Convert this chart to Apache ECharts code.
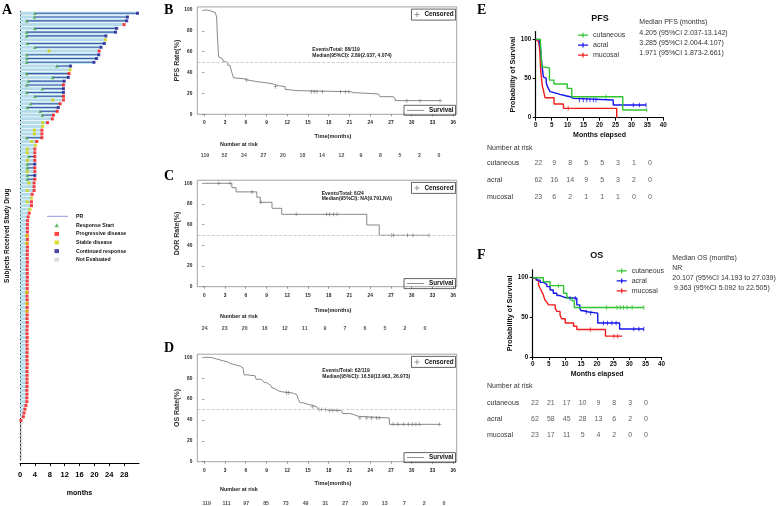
<!DOCTYPE html>
<html><head><meta charset="utf-8">
<script src="https://cdn.jsdelivr.net/npm/echarts@6/dist/echarts.min.js"></script>
<style>html,body{margin:0;padding:0;background:#fff}#c{width:778px;height:506px}</style>
</head><body><div id="c"></div>
<script>
// ---------- Panel A: swimmer plot ----------
const subjects = Array.from({length:119},(_,i)=>'S'+(i+1));
const swimEnd = [
31.6,28.9,28.7,28.0,26.0,25.7,23.1,23.0,22.7,21.8,
21.3,21.2,20.6,19.9,13.6,13.5,13.2,13.0,11.9,11.7,
11.7,11.7,11.7,11.7,10.8,10.3,10.0,9.0,8.7,7.4,
6.1,5.9,5.9,5.9,4.5,4.2,4.0,4.0,4.0,4.0,
4.0,4.0,4.0,4.0,4.0,3.8,3.8,3.8,3.3,3.1,
3.1,3.1,2.7,2.5,2.2,2.05,2.0,2.0,2.0,1.95,
2.0,1.95,2.0,2.0,1.95,1.95,2.0,1.95,1.95,1.95,
2.0,1.95,1.95,1.95,1.95,1.9,1.95,1.95,1.95,1.9,
1.95,1.9,1.95,1.95,1.9,1.9,1.95,1.9,1.9,1.95,
1.9,1.9,1.9,1.95,1.9,1.9,1.9,1.9,1.9,1.9,
1.85,1.9,1.85,1.85,1.6,1.35,1.1,0.9,0.27,0,
0,0,0,0,0,0,0,0,0];
// C = continued response, P = progressive disease, S = stable disease, N = not evaluated
const swimOutcome = 'CCCPCCCSCC'+'PCCCCSPCCP'+'CCPPPCPPPP'+'SPPPPSPPPP'+'CPPCPPPPPS'+'PPSPPP'
  +'PPPPPPPPPP'+'PPPPPPPPPP'+'PPPPPPPPPP'+'PPPPPPPPPP'+'PPPPPPPPPP'+'PPP'+'NNNNNNNNNN';
const respStart = [[1,4.0],[2,3.86],[3,1.8],[5,4.0],[6,1.8],[7,1.8],[9,1.97],[10,4.0],[12,1.8],[13,1.8],[14,1.8],[15,9.9],[17,1.8],[18,8.8],[19,2.24],[20,1.8],[21,6.0],[22,1.8],[23,4.0],[25,2.87],[26,1.97],[27,5.4],[28,6.0],[34,1.8],[39,2.33],[41,1.97],[42,1.97],[44,1.97],[45,1.97]];
const sdMarks = [[11,7.8],[24,8.8],[30,6.1],[32,3.86],[33,3.86],[35,3.14],[37,1.97],[38,1.97],[40,1.97],[43,1.97],[46,2.4],[48,1.97],[51,1.97],[60,1.8],[62,1.8],[75,1.8],[78,1.8],[80,1.8]];
const notEvalTime = 0.25;
const swimTicks = [0,4,8,12,16,20,24,28];

// ---------- Panels B, C, D ----------
const kmTicks = [0,3,6,9,12,15,18,21,24,27,30,33,36];
const rateTicks = [0,20,40,60,80,100];
const pfsAll = [[0,100],[0.5,99.2],[0.9,98.3],[1.3,97.5],[1.6,95.8],[1.8,93.3],[1.85,84],[1.9,75],[1.95,70],[2.0,64],[2.05,58],[2.1,55],[2.3,53.5],[2.6,52],[2.8,50.5],[3.1,49.5],[3.4,47],[3.7,45.7],[3.9,42.5],[4.05,39],[4.25,35],[4.5,34],[5.9,33],[6.2,31.3],[7.6,30.4],[8.8,29],[10,27.5],[10.7,26.5],[11.7,24],[11.95,22.7],[13.4,21.7],[21.1,20.8],[21.6,19.5],[25.2,17.9],[25.4,16.9],[27.3,15.3],[27.6,13.1],[34.1,13.1]];
const pfsAllCens = [[6.1,33],[10.3,26.5],[15.5,21.7],[15.9,21.7],[16.3,21.7],[17.1,21.7],[19.7,21.7],[20.4,21.7],[20.9,21.7],[29.3,13.1],[31.2,13.1],[34.1,13.1]];
const dorAll = [[0,100],[4.0,95.8],[4.6,91.7],[7.6,86.5],[8.1,81.6],[9.8,75.8],[11.2,70],[23.5,59.7],[25.3,49.7],[32.5,49.7]];
const dorAllCens = [[2.1,100],[3.75,100],[6.9,91.7],[8.2,81.6],[13.3,70],[17.7,70],[18.1,70],[18.7,70],[19.2,70],[27.1,49.7],[27.4,49.7],[29.4,49.7],[30.2,49.7],[32.5,49.7]];
const osAll = [[0,100],[0.96,99.2],[1.1,98.3],[1.8,97.5],[2.3,96.6],[2.8,95.8],[3.3,94.1],[3.75,93.3],[4.2,92.4],[4.7,91.6],[5.2,89.9],[5.6,88.7],[5.77,83.2],[6.16,82.3],[7.36,81.5],[7.5,79],[8.08,78],[8.4,76.9],[8.66,75.8],[9.0,74.6],[9.29,73.2],[9.6,72.1],[9.77,71],[10.0,69.8],[10.25,68.7],[10.5,67.9],[10.73,67],[11.21,66.1],[12.4,65.5],[12.9,64.2],[13.4,62.9],[13.6,59.7],[13.86,56.5],[14.34,54.8],[15.06,53.9],[15.78,52.6],[16.27,51],[16.5,50],[17.7,49],[19.87,48.4],[20.02,46.1],[21.08,45.2],[21.56,43.5],[22.28,41.9],[26.76,35.8],[33.98,35.8]];
const osAllCens = [[11.9,66.1],[12.2,66.1],[15.7,52.6],[16.6,50],[17.0,50],[17.5,50],[18.1,49],[18.6,49],[19.2,49],[22.5,41.9],[23.5,41.9],[24.2,41.9],[24.9,41.9],[25.3,41.9],[27.3,35.8],[28.0,35.8],[28.8,35.8],[29.5,35.8],[30.1,35.8],[30.6,35.8],[31.1,35.8],[34.0,35.8]];
const riskTimes = [0,3,6,9,12,15,18,21,24,27,30,33,36];
const riskB = [119,52,34,27,20,18,14,12,9,8,5,2,0];
const riskC = [24,23,20,16,12,11,9,7,6,5,2,0];
const riskD = [119,111,97,85,73,49,31,27,20,13,7,2,0];

// ---------- Panels E, F ----------
const groups = ['cutaneous','acral','mucosal'];
const efTicks = [0,50,100];
const pfsCut = [[0,100],[1.5,95.5],[1.9,65],[2.4,63.6],[4.3,48],[5.7,43],[9.9,37.4],[11.3,26.8],[27.3,9.8],[34.8,9.8]];
const pfsCutC = [[22,26.8],[34.8,9.8]];
const pfsAcral = [[0,100],[1.15,97],[1.4,92],[1.6,85],[1.9,70],[2.2,58.7],[2.4,52],[2.9,50.2],[3.3,45],[3.5,41.7],[3.97,37.4],[4.5,33.2],[5.0,31],[6.6,29.8],[7.6,27.7],[9.7,26.8],[10.8,24.7],[11.8,22.6],[24.3,16.2],[34.6,16.2]];
const pfsAcralC = [[13.7,22.6],[14.9,22.6],[16,22.6],[17,22.6],[18.1,22.6],[18.9,22.6],[30.6,16.2],[32.5,16.2],[34.6,16.2]];
const pfsMuc = [[0,100],[0.5,97.5],[0.84,95],[1.15,90.6],[1.36,78],[1.57,60],[1.88,48],[2.1,40],[2.4,35.3],[2.93,25.5],[5.75,17.4],[8.7,11.9],[25.4,0]];
const pfsMucC = [[10.2,11.9]];
const osCut = [[0,100],[3.3,95],[5.4,90],[9.6,80.4],[10.6,74.2],[12.2,70.8],[12.9,62.5],[34.5,62.5]];
const osCutC = [[8.0,90],[22.9,62.5],[26.2,62.5],[27.2,62.5],[28.2,62.5],[29.3,62.5],[30.9,62.5],[34.5,62.5]];
const osAcral = [[0,100],[1.2,97],[2.3,94.2],[3.3,91.7],[4.4,88.8],[5.4,84.6],[6.4,80.4],[7.5,77.5],[8.5,75],[10.1,74.2],[13.7,65.8],[14.6,61.7],[15.0,58.3],[15.8,56.7],[17.4,55.4],[20.2,42.9],[27.0,35.4],[34.5,35.4]];
const osAcralC = [[11.6,74.2],[13.2,74.2],[16.6,56.7],[18.0,55.4],[22.0,42.9],[23.2,42.9],[24.6,42.9],[25.9,42.9],[31.4,35.4],[33.0,35.4],[34.5,35.4]];
const osMuc = [[0,100],[1.0,97],[1.8,90.8],[2.3,86.7],[2.8,82.5],[3.3,78.3],[3.8,72],[4.4,69.2],[4.9,65.8],[7.0,61.7],[7.5,57.5],[8.5,52.5],[9.0,48.3],[10.1,42.9],[12.7,38.8],[13.7,34.6],[22.6,26.3],[27.8,26.3]];
const osMucC = [[17.9,34.6],[25.2,26.3],[26.4,26.3]];
const riskTimesEF = [0,5,10,15,20,25,30,35];
const riskPfsCut = [22,9,8,5,5,3,1,0];
const riskPfsAcral = [62,16,14,9,5,3,2,0];
const riskPfsMuc = [23,6,2,1,1,1,0,0];
const riskOsCut = [22,21,17,10,9,8,3,0];
const riskOsAcral = [62,58,45,28,13,6,2,0];
const riskOsMuc = [23,17,11,5,4,2,0,0];

// ---------- build ----------
const SANS = 'Liberation Sans, Arial, sans-serif';
const SERIF = 'Liberation Serif, Times New Roman, serif';
const GREEN = '#2fc42f', BLUE = '#1414f0', RED = '#f21c1c', KMGREY = '#7a7a7a';
const PLUS = 'path://M4,0H6V10H4Z M0,4H10V6H0Z';
const LINEICON = 'path://M0,4.5H20V5.5H0Z';
const EFICON = 'path://M0,2.4H10V3.6H0Z M4.4,0.6H5.6V5.4H4.4Z';

const respData = respStart.map(([s,t])=>[t,s-1]);
const prData = respStart.map(([s,t])=>[t,s-1,swimEnd[s-1]]);
const sdData = sdMarks.map(([s,t])=>[t,s-1]);
const pdData = [], contData = [], neData = [];
swimEnd.forEach((e,i)=>{
  const o = swimOutcome[i] || 'P';
  if (o==='P') pdData.push([e,i]);
  else if (o==='C') contData.push([e,i]);
  else if (o==='S') sdData.push([e,i]);
  else neData.push([notEvalTime,i]);
});

const grids = [
  {left:20, top:11.4, width:119, height:448.7},          // 0 A
  {left:197.3, top:6.9, width:259.4, height:107.4, show:true}, // 1 B
  {left:205, top:155.2, width:234, height:1},            // 2 B risk
  {left:197.3, top:180.2, width:259.4, height:106.5, show:true}, // 3 C
  {left:204.7, top:328.5, width:240.3, height:1},        // 4 C risk
  {left:197.3, top:354.2, width:259.4, height:107.5, show:true}, // 5 D
  {left:206.7, top:502.8, width:237.3, height:1},        // 6 D risk
  {left:535.7, top:31.5, width:127.6, height:86.2},      // 7 E
  {left:538.3, top:163.3, width:127.6, height:33.4},     // 8 E risk
  {left:532.7, top:269.8, width:128.8, height:87.2},     // 9 F
  {left:535, top:402.7, width:126.9, height:32.3}        // 10 F risk
].map(g=>Object.assign({outerBoundsMode:'none', containLabel:false, borderColor:'#8c8c8c', borderWidth:0.8}, g));

function kmX(gi, gap){ return {type:'value', gridIndex:gi, min:-1, max:36.5,
  axisLine:{show:false}, splitLine:{show:false},
  axisTick:{show:true, length:2, customValues:kmTicks, lineStyle:{color:'#777', width:0.8}},
  axisLabel:{customValues:kmTicks, fontSize:4.8, fontWeight:'bold', color:'#222', margin:6, fontFamily:SANS},
  name:'Time(months)', nameLocation:'middle', nameGap:gap,
  nameTextStyle:{fontSize:5.6, fontWeight:'bold', color:'#222', padding:[0,0,0,12], fontFamily:SANS}}; }
function kmY(gi, name){ return {type:'value', gridIndex:gi, min:0, max:103,
  axisLine:{show:false}, splitLine:{show:false},
  axisTick:{show:true, length:2, customValues:rateTicks, lineStyle:{color:'#777', width:0.8}},
  axisLabel:{customValues:rateTicks, fontSize:4.8, fontWeight:'bold', color:'#222', margin:5, fontFamily:SANS},
  name:name, nameLocation:'middle', nameGap:15.5,
  nameTextStyle:{fontSize:7, fontWeight:'bold', color:'#333', fontFamily:SANS}}; }
function hidX(gi,max){ return {type:'value', gridIndex:gi, min:0, max:max, show:false}; }
function hidY(gi){ return {type:'value', gridIndex:gi, min:0, max:1, show:false}; }
function efX(gi, gap, margin){ return {type:'value', gridIndex:gi, min:0, max:40, interval:5,
  axisLine:{show:true, lineStyle:{color:'#000', width:1.2}}, splitLine:{show:false},
  axisTick:{show:true, length:3, lineStyle:{color:'#000', width:1}},
  axisLabel:{fontSize:6.3, fontWeight:'bold', color:'#111', margin:margin, fontFamily:SANS},
  name:'Months elapsed', nameLocation:'middle', nameGap:gap,
  nameTextStyle:{fontSize:7, fontWeight:'bold', color:'#111', fontFamily:SANS}}; }
function efY(gi, gap){ return {type:'value', gridIndex:gi, min:0, max:110,
  axisLine:{show:true, lineStyle:{color:'#000', width:1.2}}, splitLine:{show:false},
  axisTick:{show:true, length:3, customValues:efTicks, lineStyle:{color:'#000', width:1}},
  axisLabel:{customValues:efTicks, fontSize:6.3, fontWeight:'bold', color:'#111', margin:4.5, fontFamily:SANS},
  name:'Probability of Survival', nameLocation:'middle', nameGap:gap,
  nameTextStyle:{fontSize:7.2, fontWeight:'bold', color:'#111', fontFamily:SANS}}; }
function riskY(gi, margin){ return {type:'category', gridIndex:gi, data:groups, inverse:true, boundaryGap:false,
  axisLine:{show:false}, axisTick:{show:false}, splitLine:{show:false},
  axisLabel:{align:'left', margin:margin, fontSize:7, color:'#333', fontFamily:SANS}}; }

const xAxes = [
  {type:'value', gridIndex:0, min:0, max:32, offset:3,
   axisLine:{show:true, lineStyle:{color:'#000', width:1}}, splitLine:{show:false},
   axisTick:{show:true, length:3, customValues:swimTicks, lineStyle:{color:'#000'}},
   axisLabel:{customValues:swimTicks, fontSize:7.5, fontWeight:'bold', color:'#000', margin:8, fontFamily:SANS},
   name:'months', nameLocation:'middle', nameGap:26,
   nameTextStyle:{fontSize:7, fontWeight:'bold', color:'#000', fontFamily:SANS}},
  kmX(1,19.5), hidX(2,36), kmX(3,21), hidX(4,36), kmX(5,18.5), hidX(6,36),
  efX(7,14,4.5), hidX(8,40), efX(9,13.3,4), hidX(10,40)
];
const yAxes = [
  {type:'category', gridIndex:0, data:subjects, inverse:true,
   axisLine:{show:true, lineStyle:{color:'#000', width:1}}, axisTick:{show:false}, axisLabel:{show:false},
   name:'Subjects Received Study Drug', nameLocation:'middle', nameGap:9.5,
   nameTextStyle:{fontSize:6.5, fontWeight:'bold', color:'#111', fontFamily:SANS}},
  kmY(1,'PFS Rate(%)'), hidY(2), kmY(3,'DOR Rate(%)'), hidY(4), kmY(5,'OS Rate(%)'), hidY(6),
  efY(7,19), riskY(8,51.3), efY(9,17.5), riskY(10,48)
];

const series = [];
// Panel A
series.push({type:'bar', name:'bg', xAxisIndex:0, yAxisIndex:0, data:swimEnd, barWidth:3,
  itemStyle:{color:'#b3dbea'}, silent:true, z:1});
series.push({type:'custom', name:'PR', xAxisIndex:0, yAxisIndex:0, data:prData,
  encode:{x:[0,2], y:1}, z:2, itemStyle:{color:'#3f5aa8'},
  renderItem:function(params, api){
    const p1 = api.coord([api.value(0), api.value(1)]);
    const p2 = api.coord([api.value(2), api.value(1)]);
    return {type:'line', shape:{x1:p1[0], y1:p1[1], x2:p2[0], y2:p2[1]},
      style:{stroke:'#3f5aa8', lineWidth:1.1}};
  }});
function mark(name, data, symbol, size, color){
  return {type:'scatter', name:name, xAxisIndex:0, yAxisIndex:0, data:data, symbol:symbol,
    symbolSize:size, itemStyle:{color:color}, z:4, silent:true};
}
series.push(mark('Response Start', respData, 'triangle', 3.6, '#4aa84a'));
series.push(mark('Progressive disease', pdData, 'rect', 3, '#ff1010'));
series.push(mark('Stable disease', sdData, 'rect', 3, '#d2d200'));
series.push(mark('Continued response', contData, 'rect', 3, '#1c1c8e'));
series.push(mark('Not Evaluated', neData, 'rect', 2.6, '#cfcfcf'));

// Panels B, C, D
function kmPanel(gi, curve, cens){
  series.push({type:'line', name:'Survival', xAxisIndex:gi, yAxisIndex:gi, data:curve, step:'end',
    symbol:'none', lineStyle:{color:KMGREY, width:0.9}, itemStyle:{color:KMGREY}, z:2,
    markLine:{silent:true, symbol:['none','none'], label:{show:false}, animation:false,
      lineStyle:{type:'dashed', color:'#c4c4c4', width:0.8}, data:[{yAxis:50}]}});
  series.push({type:'scatter', name:'Censored', xAxisIndex:gi, yAxisIndex:gi, data:cens,
    symbol:PLUS, symbolSize:4, itemStyle:{color:KMGREY}, z:3});
}
function riskRow(gi, times, vals){
  series.push({type:'scatter', name:'risk'+gi, xAxisIndex:gi, yAxisIndex:gi,
    data:vals.map((v,i)=>[times[i],0.5,v]), symbolSize:1, itemStyle:{color:'rgba(0,0,0,0)'},
    label:{show:true, position:'inside', formatter:p=>String(p.data[2]), fontSize:5.2,
      fontWeight:'bold', color:'#222', fontFamily:SANS}, silent:true});
}
kmPanel(1, pfsAll, pfsAllCens); riskRow(2, riskTimes, riskB);
kmPanel(3, dorAll, dorAllCens); riskRow(4, riskTimes, riskC);
kmPanel(5, osAll, osAllCens);   riskRow(6, riskTimes, riskD);

// Panels E, F
function efPanel(gi, curves, cens){
  const cols = [GREEN, BLUE, RED];
  [2,1,0].forEach(k=>{
    series.push({type:'line', name:groups[k], xAxisIndex:gi, yAxisIndex:gi, data:curves[k], step:'end',
      symbol:'none', lineStyle:{color:cols[k], width:1.4}, itemStyle:{color:cols[k]}, z:2+(2-k)});
    series.push({type:'scatter', name:groups[k]+' censored', xAxisIndex:gi, yAxisIndex:gi, data:cens[k],
      symbol:'rect', symbolSize:[1,4.5], itemStyle:{color:cols[k]}, z:5});
  });
}
function efRisk(gi, rows){
  const data = [];
  rows.forEach((r,k)=>r.forEach((v,i)=>data.push([riskTimesEF[i], k, v])));
  series.push({type:'scatter', name:'efrisk'+gi, xAxisIndex:gi, yAxisIndex:gi, data:data,
    symbolSize:1, itemStyle:{color:'rgba(0,0,0,0)'},
    label:{show:true, position:'inside', formatter:p=>String(p.data[2]), fontSize:7, color:'#333', fontFamily:SANS},
    silent:true});
}
efPanel(7, [pfsCut,pfsAcral,pfsMuc], [pfsCutC,pfsAcralC,pfsMucC]);
efRisk(8, [riskPfsCut, riskPfsAcral, riskPfsMuc]);
efPanel(9, [osCut,osAcral,osMuc], [osCutC,osAcralC,osMucC]);
efRisk(10, [riskOsCut, riskOsAcral, riskOsMuc]);

// Legends
const legBase = {selectedMode:false, padding:0, itemStyle:{borderWidth:0}};
function L(o){ return Object.assign({}, legBase, o); }
const kmLegText = {fontSize:6.3, fontWeight:'bold', color:'#111', fontFamily:SANS, lineHeight:6};
const legends = [
  L({left:47, top:212, data:[{name:'PR', icon:'path://M0,1.5H21V2.5H0Z', itemStyle:{color:'#9296e4'}}],
    itemWidth:21, itemHeight:4,
    textStyle:{fontSize:5.2, fontWeight:'bold', color:'#111', fontFamily:SANS, lineHeight:8.6, padding:[0,0,0,3]}}),
  L({left:54.5, top:221, orient:'vertical', itemGap:0, itemWidth:4.5, itemHeight:4,
    data:['Response Start','Progressive disease','Stable disease','Continued response','Not Evaluated'],
    textStyle:{fontSize:5.2, fontWeight:'bold', color:'#111', fontFamily:SANS, lineHeight:8.6, padding:[0,0,0,12]}}),
];
[[6.9],[180.2],[354.2]].forEach(([gt])=>{
  legends.push(L({right:322.5, top:gt+2.2, data:['Censored'], itemWidth:5, itemHeight:5,
    padding:[2.5,2,2.5,3], borderColor:'#222', borderWidth:0.7, textStyle:kmLegText}));
  legends.push(L({right:322.5, top:gt+98.4, data:[{name:'Survival', icon:LINEICON}], itemWidth:17, itemHeight:4,
    padding:[2,2,2,3], borderColor:'#222', borderWidth:0.7, textStyle:kmLegText}));
});
legends.push(L({left:578, top:30.2, orient:'vertical', itemGap:0, itemWidth:10, itemHeight:5,
  data:groups.map(g=>({name:g, icon:EFICON})), textStyle:{fontSize:7, color:'#333', fontFamily:SANS, lineHeight:10}}));
legends.push(L({left:616.7, top:265.8, orient:'vertical', itemGap:0, itemWidth:10, itemHeight:5,
  data:groups.map(g=>({name:g, icon:EFICON})), textStyle:{fontSize:7, color:'#333', fontFamily:SANS, lineHeight:10}}));

// Text annotations
function txt(x, y, text, size, o){
  o = o || {};
  const al = o.align || 'left';
  return {type:'text', x:x, y:y, silent:true, z:100,
    style:{text:text, fontSize:size, fontFamily:o.family||SANS, fontWeight:o.bold?'bold':'normal',
      fill:o.color||'#222', align:al, textAlign:al, verticalAlign:'middle', textVerticalAlign:'middle'}};
}
const big = {bold:true, family:SERIF, color:'#000'};
const st = {bold:true, color:'#1a1a1a'};
const el = [
  txt(2,10,'A',14,big), txt(164,10,'B',14,big), txt(164,176,'C',14,big), txt(164,348,'D',14,big),
  txt(477,10,'E',14,big), txt(477,255,'F',14,big),
  txt(312.3,50,'Events/Total: 88/119',5,st), txt(312.3,56,'Median(95%CI): 2.89(2.037, 4.074)',5,st),
  txt(321.7,193.3,'Events/Total: 6/24',5,st), txt(321.7,199,'Median(95%CI): NA(9.791,NA)',5,st),
  txt(322.3,371,'Events/Total: 62/119',5,st), txt(322.3,376.7,'Median(95%CI): 16.59(13.963, 26.973)',5,st),
  txt(220,145,'Number at risk',5.4,st), txt(220,316.7,'Number at risk',5.4,st), txt(220,490,'Number at risk',5.4,st),
  txt(600,18.3,'PFS',9,{bold:true,color:'#111',align:'center'}),
  txt(639.3,21.7,'Median PFS (months)',7,{color:'#333'}),
  txt(639.3,32.7,'4.205 (95%CI 2.037-13.142)',7,{color:'#333'}),
  txt(639.3,42.7,'3.285 (95%CI 2.004-4.107)',7,{color:'#333'}),
  txt(639.3,53.3,'1.971 (95%CI 1.873-2.661)',7,{color:'#333'}),
  txt(596.7,256,'OS',9,{bold:true,color:'#111',align:'center'}),
  txt(672.3,257.7,'Median OS (months)',7,{color:'#333'}),
  txt(672.3,268.3,'NR',7,{color:'#333'}),
  txt(672.3,278.3,'20.107 (95%CI 14.193 to 27.039)',7,{color:'#333'}),
  txt(674,288.3,'9.363 (95%CI 5.092 to 22.505)',7,{color:'#333'}),
  txt(487,147.7,'Number at risk',7,{color:'#333'}),
  txt(487,386,'Number at risk',7,{color:'#333'})
];

const chart = echarts.init(document.getElementById('c'), null, {renderer:'canvas'});
chart.setOption({
  animation:false,
  backgroundColor:'#fff',
  textStyle:{fontFamily:SANS},
  grid:grids, xAxis:xAxes, yAxis:yAxes, series:series, legend:legends,
  graphic:{elements:el}
});
</script></body></html>
